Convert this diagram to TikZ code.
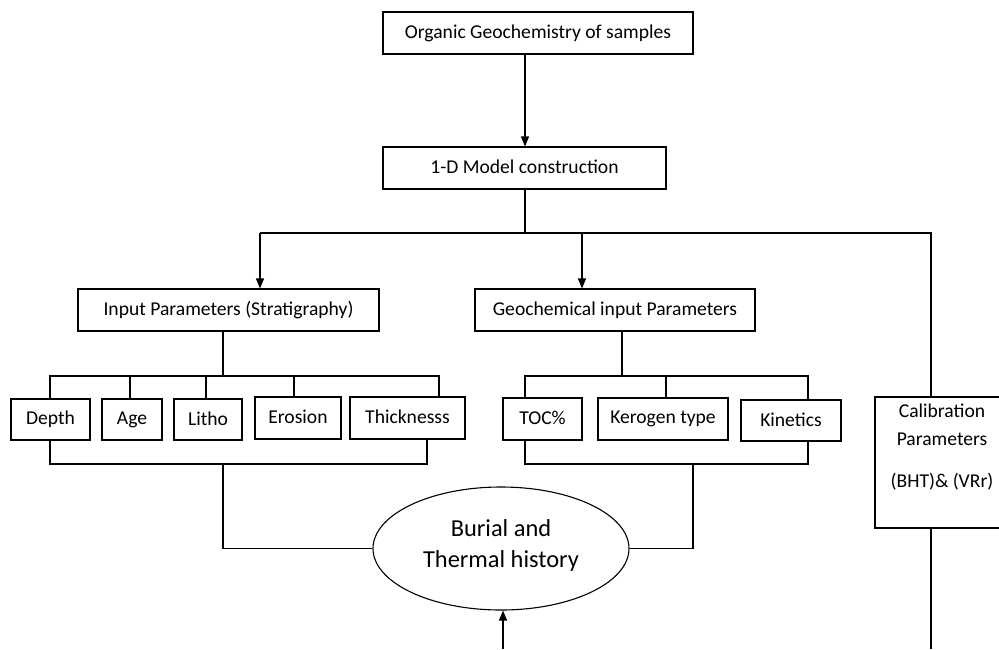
\documentclass[tikz,border=0pt]{standalone}
\usepackage{fontspec}
\setmainfont{Carlito}
\usetikzlibrary{arrows.meta,shapes.geometric}
\begin{document}
\begin{tikzpicture}[x=1pt,y=-1pt,
  box/.style={draw,line width=1.1pt,inner sep=0pt,font=\fontsize{19.6}{24}\selectfont},
  ln/.style={line width=1.1pt},
  arr/.style={line width=1.1pt,-{Triangle[length=10pt,width=8pt]}},
  txt/.style={font=\fontsize{19.6}{24}\selectfont,inner sep=0pt}]
\clip (0,0) rectangle (999,649);
% boxes
\node[box,minimum width=310pt,minimum height=42pt] (top) at (538,33) {\raisebox{3pt}{Organic Geochemistry of samples}};
\node[box,minimum width=283pt,minimum height=42pt] (model) at (524.5,168) {\raisebox{3pt}{1-D Model construction}};
\node[box,minimum width=301pt,minimum height=42pt] (inp) at (228.5,310) {\raisebox{3pt}{Input Parameters (Stratigraphy)}};
\node[box,minimum width=280pt,minimum height=42pt] (geo) at (615,310) {\raisebox{3pt}{Geochemical input Parameters}};
\node[box,minimum width=79pt,minimum height=41pt] (depth) at (50.5,419.5) {\raisebox{2pt}{Depth}};
\node[box,minimum width=60pt,minimum height=41pt] (age) at (132,419.5) {\raisebox{3pt}{Age}};
\node[box,minimum width=68pt,minimum height=41pt] (litho) at (208,419.5) {\raisebox{2pt}{Litho}};
\node[box,minimum width=86pt,minimum height=42pt] (eros) at (298,418) {\raisebox{3pt}{Erosion}};
\node[box,minimum width=115pt,minimum height=42pt] (thick) at (407.5,418) {\raisebox{3pt}{Thicknesss}};
\node[box,minimum width=79pt,minimum height=42pt] (toc) at (542.5,419) {\raisebox{2pt}{TOC\%}};
\node[box,minimum width=130pt,minimum height=42pt] (ker) at (663,419) {\raisebox{2pt}{Kerogen type}};
\node[box,minimum width=100pt,minimum height=41pt] (kin) at (791,420.5) {\raisebox{1pt}{Kinetics}};
\node[box,minimum width=135pt,minimum height=131pt] (calib) at (942.5,462.5) {};
\node[txt,align=center,anchor=north] (calibtxt) at (942,404) {Calibration\\[4pt]Parameters\\[18pt](BHT)\& (VRr)};
\node[draw,ellipse,line width=1.1pt,inner sep=0pt,minimum width=256pt,minimum height=123pt,
  align=center,font=\fontsize{24.4}{31}\selectfont] (ell) at (501,548.5) {Burial and\\Thermal history\\[-21pt]};
% coordinates
\coordinate (c1) at (525,0);
\coordinate (bl) at (260,233);
\coordinate (bm) at (582,233);
\coordinate (j1) at (525,233);
\coordinate (br) at (931,233);
\coordinate (s1) at (223,376);
\coordinate (sa) at (50,376);
\coordinate (sb) at (130,376);
\coordinate (sc) at (206,376);
\coordinate (sd) at (294,376);
\coordinate (se) at (439,376);
\coordinate (t1) at (50,464);
\coordinate (t2) at (427,464);
\coordinate (tm) at (223,464);
\coordinate (g1) at (622,376);
\coordinate (ga) at (525,376);
\coordinate (gb) at (666,376);
\coordinate (gc) at (808,376);
\coordinate (h1) at (525,464);
\coordinate (h2) at (808,464);
\coordinate (hm) at (693,464);
\coordinate (cb) at (931,649);
\coordinate (ab) at (503,649);
% connectors
\draw[arr] (top.south -| c1) -- (model.north -| c1);
\draw[ln] (model.south -| c1) -- (j1);
\draw[ln] (bl) -- (br) -- (calib.north -| br);
\draw[arr] (bl) -- (inp.north -| bl);
\draw[arr] (bm) -- (geo.north -| bm);
% stratigraphy bracket
\draw[ln] (inp.south -| s1) -- (s1);
\draw[ln] (depth.north -| sa) -- (sa) -- (se) -- (thick.north -| se);
\draw[ln] (sb) -- (age.north -| sb);
\draw[ln] (sc) -- (litho.north -| sc);
\draw[ln] (sd) -- (eros.north -| sd);
\draw[ln] (depth.south -| t1) -- (t1) -- (t2) -- (thick.south -| t2);
\draw[ln] (tm) |- (ell.west);
% geochemical bracket
\draw[ln] (geo.south -| g1) -- (g1);
\draw[ln] (toc.north -| ga) -- (ga) -- (gc) -- (kin.north -| gc);
\draw[ln] (gb) -- (ker.north -| gb);
\draw[ln] (toc.south -| h1) -- (h1) -- (h2) -- (kin.south -| h2);
\draw[ln] (hm) |- (ell.east);
% calibration
\draw[ln] (calib.south -| cb) -- (cb);
\draw[arr] (ab) -- (ell.south -| ab);
\end{tikzpicture}
\end{document}
